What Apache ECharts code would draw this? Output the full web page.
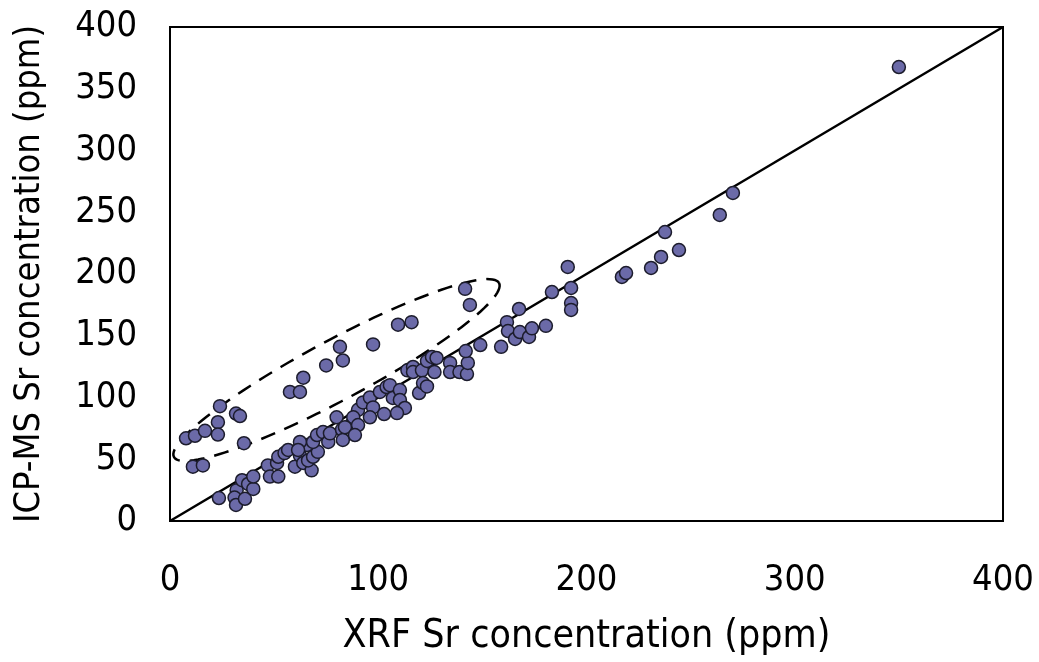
<!DOCTYPE html>
<html><head><meta charset="utf-8">
<script src="https://cdn.jsdelivr.net/npm/echarts@6/dist/echarts.min.js"></script>
<style>html,body{margin:0;padding:0;background:#fff}#c{width:1039px;height:662px}</style>
</head><body><div id="c"></div>
<script>
// XRF Sr (x) vs ICP-MS Sr (y), ppm
var xrfOutlier = [7.7,12,16.8,23,23,24,31.7,33.6,35.5,11,15.8,57.6,62.4,64,75,81.6,83,97.5,109.5,116,141.7,144];
var icpOutlier = [67,69,73,80,70,93,87,85,63,44,45,104.5,104.5,116,126,141,130,143,159,161,188,175];
var xrfMain = [23.5,32,31,31.7,36,34.6,37.5,40,40,47,48,52,51.4,52,55,56.7,60,62.4,64,68,66.3,68.7,71,65.8,62.4,61.5,68.7,70.6,73.5,76,76.8,80,82.6,83,87.4,90.3,88,90.3,84,88.8,92.7,96,97.5,96,100.8,104,105.6,107,110.4,110.4,112.8,109,102.8,114,116.7,116.7,121,119.6,121.5,123.4,123.4,125.8,128,127,134.5,134.5,139,142.6,143,142,149,159,161.8,162.3,165.7,168,167.6,172.4,173.8,180.5,183.4,191,192.6,192.6,192.6,217,219,231,235.8,237.7,244.4,264,270.3,350];
var icpMain = [18.6,25,19,13,18,33,30,26,36,45,36,36,47,52,55,57.5,44,53,47,41,49,52,56,61.5,64,57.5,64,69.6,72,64,71,84,74,65.6,79,90,84,77.7,76,69.6,96,100,92,84,104.5,108.5,110,99.6,106,98,91.5,87.4,86.6,122,124.7,120.6,122,103.6,111.7,109,129.6,132.8,132,120.6,128,120.6,120.6,119,128,137.6,142.5,141,161,153.8,147.4,153,171.7,149,156,158,185.4,205.7,188.7,176.5,170.9,197.6,200.8,204.9,213.8,234,219.4,247.8,265.6,367.6];
var oneToOne = [[0,0],[400,400]];
var ellipseEnds = [[1.9,51.8,158,192.7]];

var pts = [];
for (var i=0;i<xrfMain.length;i++) pts.push([xrfMain[i],icpMain[i]]);
for (var j=0;j<xrfOutlier.length;j++) pts.push([xrfOutlier[j],icpOutlier[j]]);

var FONT = 'DejaVu Sans Condensed';
var ELL_RY = 30;
var chart = echarts.init(document.getElementById('c'), null, {renderer:'canvas'});
chart.setOption({
  animation:false,
  backgroundColor:'#fff',
  grid:{left:170,right:36,top:27,bottom:141,show:true,borderColor:'#000',borderWidth:2,backgroundColor:'transparent',containLabel:false,outerBoundsMode:'none'},
  xAxis:{type:'value',min:0,max:400,interval:100,
    name:'XRF Sr concentration (ppm)',nameLocation:'middle',nameGap:96,
    nameTextStyle:{fontFamily:FONT,fontSize:39,color:'#000'},
    axisLine:{show:true,lineStyle:{color:'#000',width:2}},axisTick:{show:false},splitLine:{show:false},
    axisLabel:{fontFamily:FONT,fontSize:36,color:'#000',margin:42}},
  yAxis:{type:'value',min:0,max:400,interval:50,
    name:'ICP-MS Sr concentration (ppm)',nameLocation:'middle',nameGap:122,
    nameTextStyle:{fontFamily:FONT,fontSize:36,color:'#000'},
    axisLine:{show:true,lineStyle:{color:'#000',width:2}},axisTick:{show:false},splitLine:{show:false},
    axisLabel:{fontFamily:FONT,fontSize:36,color:'#000',margin:33}},
  series:[
    {type:'line',data:oneToOne,symbol:'none',lineStyle:{color:'#000',width:2.5},z:1,silent:true},
    {type:'custom',data:ellipseEnds,z:2,silent:true,clip:false,
      renderItem:function(params,api){
        var p1=api.coord([api.value(0),api.value(1)]);
        var p2=api.coord([api.value(2),api.value(3)]);
        var cx=(p1[0]+p2[0])/2, cy=(p1[1]+p2[1])/2;
        var dx=p2[0]-p1[0], dy=p2[1]-p1[1];
        var rx=Math.sqrt(dx*dx+dy*dy)/2, ang=Math.atan2(dy,dx);
        var ca=Math.cos(ang), sa=Math.sin(ang), poly=[];
        for(var k=0;k<=120;k++){var t=k/120*Math.PI*2;var ex=rx*Math.cos(t),ey=ELL_RY*Math.sin(t);
          poly.push([cx+ex*ca-ey*sa, cy+ex*sa+ey*ca]);}
        return {type:'polyline',shape:{points:poly},style:{fill:null,stroke:'#000',lineWidth:2.5,lineDash:[15,10]}};
      }},
    {type:'scatter',data:pts,symbol:'circle',symbolSize:13,z:3,
      itemStyle:{color:'#6b6aa8',borderColor:'#1c1c2c',borderWidth:1.5,opacity:1}}
  ]
});
</script></body></html>
